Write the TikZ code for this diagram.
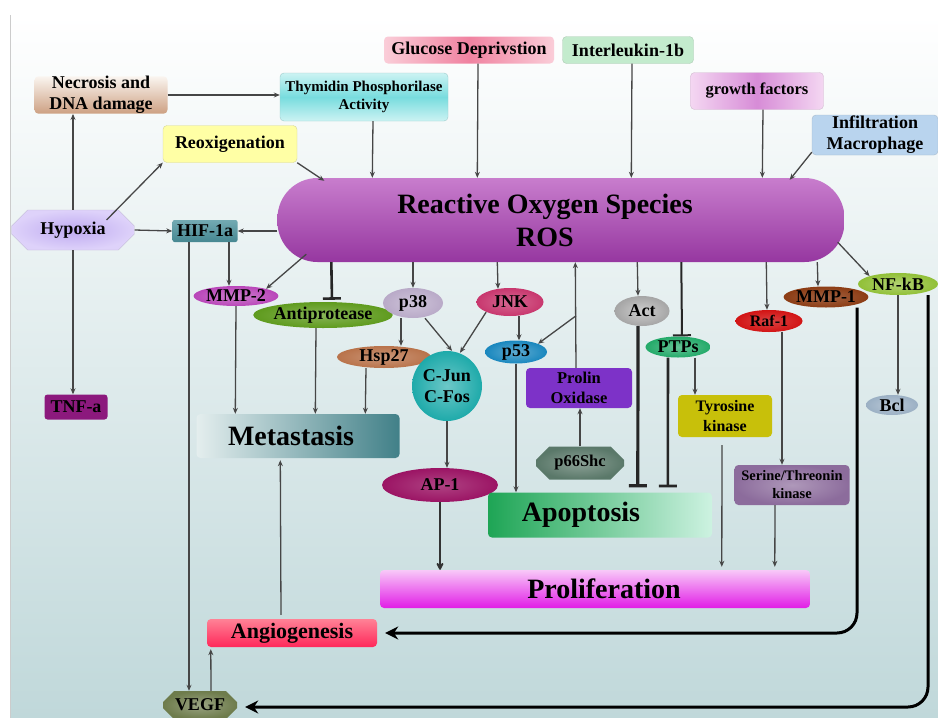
\documentclass[tikz,border=0pt]{standalone}
\usepackage{fontspec}
\setmainfont{Liberation Serif}
\usetikzlibrary{arrows.meta,shapes.geometric,shapes.misc,calc}
\definecolor{bgBot}{RGB}{192,216,218}
\definecolor{lineg}{RGB}{70,70,70}
\definecolor{necroT}{RGB}{250,245,240}
\definecolor{necroB}{RGB}{205,160,130}
\definecolor{thymC}{RGB}{170,235,235}
\definecolor{thymM}{RGB}{120,220,222}
\definecolor{glucL}{RGB}{250,205,216}
\definecolor{glucM}{RGB}{240,130,160}
\definecolor{interC}{RGB}{195,235,205}
\definecolor{growthL}{RGB}{244,215,242}
\definecolor{growthM}{RGB}{215,140,215}
\definecolor{infilC}{RGB}{185,212,238}
\definecolor{reoxC}{RGB}{255,255,165}
\definecolor{reoxB}{RGB}{215,215,150}
\definecolor{rosT}{RGB}{200,125,205}
\definecolor{rosB}{RGB}{150,55,160}
\definecolor{hypC}{RGB}{222,210,250}
\definecolor{hypM}{RGB}{190,170,240}
\definecolor{hifC}{RGB}{70,135,145}
\definecolor{hifT}{RGB}{115,170,178}
\definecolor{tnfC}{RGB}{140,25,125}
\definecolor{mmp2C}{RGB}{185,70,185}
\definecolor{antiC}{RGB}{95,155,30}
\definecolor{p38C}{RGB}{185,170,200}
\definecolor{jnkC}{RGB}{200,55,110}
\definecolor{hspC}{RGB}{185,115,75}
\definecolor{cjunC}{RGB}{30,170,170}
\definecolor{p53C}{RGB}{25,135,190}
\definecolor{prolinC}{RGB}{125,50,200}
\definecolor{p66C}{RGB}{90,120,105}
\definecolor{actC}{RGB}{165,165,165}
\definecolor{ptpsC}{RGB}{35,170,105}
\definecolor{tyrC}{RGB}{200,192,10}
\definecolor{rafC}{RGB}{210,20,20}
\definecolor{mmp1C}{RGB}{140,60,20}
\definecolor{nfkbC}{RGB}{145,192,55}
\definecolor{bclC}{RGB}{155,176,196}
\definecolor{serC}{RGB}{140,108,156}
\definecolor{metaL}{RGB}{228,238,238}
\definecolor{metaR}{RGB}{65,128,136}
\definecolor{ap1C}{RGB}{155,20,100}
\definecolor{apopL}{RGB}{30,165,85}
\definecolor{apopR}{RGB}{205,242,225}
\definecolor{prolT}{RGB}{248,200,248}
\definecolor{prolB}{RGB}{225,30,230}
\definecolor{angioT}{RGB}{255,130,150}
\definecolor{angioB}{RGB}{255,40,90}
\definecolor{vegfC}{RGB}{110,124,76}
\tikzset{
  lbl/.style={font=\bfseries\fontsize{18}{21}\selectfont, align=center, inner sep=0pt, text=black},
  rbox/.style={lbl, rectangle, rounded corners=4pt},
  oval/.style={lbl, ellipse, inner xsep=0pt, inner ysep=-3pt},
  cbox/.style={lbl, chamfered rectangle},
  arr/.style={draw=lineg, line width=1.3pt, -{Stealth[length=6pt,width=5pt]}},
  inh/.style={draw=black!85, line width=2.6pt, -{Bar[width=18pt]}},
  bigarr/.style={draw=black, line width=3pt, rounded corners=20pt, -{Stealth[length=13pt,width=13pt]}},
}
\begin{document}
\begin{tikzpicture}[x=1pt,y=-1pt]
\useasboundingbox (0,0) rectangle (938,718);
\shade[top color=white, bottom color=bgBot] (10,15) rectangle (938,718);
\draw[gray!40, line width=0.8pt] (10,15) -- (10,718);

% top inputs
\node[rbox, top color=necroT, bottom color=necroB, minimum width=133pt, minimum height=34pt] (necro) at (101,95) {Necrosis and\\DNA damage};
\node[rbox, font=\bfseries\fontsize{15}{18}\selectfont, top color=thymC!60!white, bottom color=thymC!60!white, middle color=thymM, draw=thymC!70!gray, minimum width=168pt, minimum height=48pt] (thym) at (364,97) {Thymidin Phosphorilase\\Activity};
\node[rbox, left color=glucL, right color=glucL, middle color=glucM, minimum width=170pt, minimum height=27pt] (gluc) at (469,50) {Glucose Deprivstion};
\node[rbox, fill=interC, draw=interC!70!gray, minimum width=131pt, minimum height=27pt] (inter) at (628,50) {Interleukin-1b};
\node[rbox, font=\bfseries\fontsize{16.5}{19}\selectfont, left color=growthL, right color=growthL, middle color=growthM, draw=growthL!70!gray, minimum width=133pt, minimum height=37pt] (growth) at (757,91) {growth factors};
\node[rbox, fill=infilC, draw=infilC!70!gray, minimum width=126pt, minimum height=40pt] (infil) at (875,135) {Infiltration\\Macrophage};
\node[rbox, fill=reoxC, draw=reoxB, minimum width=134pt, minimum height=37pt] (reox) at (230,144) {Reoxigenation};

% ROS
\node[rbox, rounded corners=40pt, top color=rosT, bottom color=rosB, font=\bfseries\fontsize{28}{33}\selectfont, minimum width=567pt, minimum height=84pt] (ros) at (561,220) {Reactive Oxygen Species\hspace*{32pt}\\ROS\hspace*{32pt}};

% left side
\node[cbox, chamfered rectangle xsep=14pt, chamfered rectangle ysep=8pt, inner color=hypM, outer color=hypC, draw=hypC!70!gray, minimum width=123pt, minimum height=40pt] (hyp) at (73,230) {Hypoxia};
\node[rbox, top color=hifT, bottom color=hifC, minimum width=65pt, minimum height=22pt, rounded corners=2pt] (hif) at (205,231) {HIF-1a};
\node[rbox, fill=tnfC, rounded corners=3pt, minimum width=63pt, minimum height=25pt] (tnf) at (76,407) {TNF-a};

% ellipses
\node[oval, inner color=mmp2C!70!white, outer color=mmp2C, minimum width=80pt, minimum height=20pt] (mmp2) at (236,296) {MMP-2};
\node[oval, inner color=antiC!75!white, outer color=antiC, minimum width=130pt, minimum height=26pt] (anti) at (323,315) {Antiprotease};
\node[oval, inner color=p38C!70!white, outer color=p38C, minimum width=60pt, minimum height=30pt] (p38) at (413,303) {p38};
\node[oval, inner color=jnkC!75!white, outer color=jnkC, minimum width=67pt, minimum height=28pt] (jnk) at (510,302) {JNK};
\node[oval, inner color=hspC!75!white, outer color=hspC, minimum width=94pt, minimum height=22pt] (hsp) at (384,357) {Hsp27};
\node[lbl, circle, minimum size=70pt, inner color=cjunC!65!white, outer color=cjunC] (cjun) at (447,386) {C-Jun\\C-Fos};
\node[oval, inner color=p53C!70!white, outer color=p53C, minimum width=62pt, minimum height=23pt] (p53) at (516,352) {p53};
\node[rbox, fill=prolinC, font=\bfseries\fontsize{16.5}{20}\selectfont, minimum width=106pt, minimum height=40pt] (prolin) at (579,388) {Prolin\\Oxidase};
\node[cbox, chamfered rectangle xsep=9pt, chamfered rectangle ysep=6pt, inner color=p66C!70!white, outer color=p66C, font=\bfseries\fontsize{16.5}{19}\selectfont, minimum width=88pt, minimum height=33pt] (p66) at (580,463) {p66Shc};
\node[oval, inner color=actC!55!white, outer color=actC, minimum width=55pt, minimum height=30pt] (act) at (642,311) {Act};
\node[oval, inner color=ptpsC!70!white, outer color=ptpsC, minimum width=65pt, minimum height=21pt] (ptps) at (678,347) {PTPs};
\node[rbox, fill=tyrC, font=\bfseries\fontsize{16}{20}\selectfont, minimum width=94pt, minimum height=42pt] (tyr) at (725,416) {Tyrosine\\kinase};
\node[oval, inner color=rafC!80!white, outer color=rafC, font=\bfseries\fontsize{16}{19}\selectfont, minimum width=67pt, minimum height=22pt] (raf) at (769,321) {Raf-1};
\node[oval, inner color=mmp1C!80!white, outer color=mmp1C, minimum width=83pt, minimum height=21pt] (mmp1) at (826,297) {MMP-1};
\node[oval, inner color=nfkbC!70!white, outer color=nfkbC, minimum width=80pt, minimum height=22pt] (nfkb) at (898,284) {NF-kB};
\node[oval, inner color=bclC!70!white, outer color=bclC, minimum width=52pt, minimum height=20pt] (bcl) at (892,405) {Bcl};
\node[rbox, inner color=serC!70!white, outer color=serC, font=\bfseries\fontsize{14.5}{18}\selectfont, minimum width=115pt, minimum height=40pt] (ser) at (792,485) {Serine/Threonin\\kinase};

% outcomes
\node[rbox, left color=metaL, right color=metaR, font=\bfseries\fontsize{28}{32}\selectfont, minimum width=203pt, minimum height=44pt] (meta) at (298,436) {Metastasis\hspace*{14pt}};
\node[oval, inner color=ap1C!80!white, outer color=ap1C, minimum width=116pt, minimum height=34pt] (ap1) at (440,485) {AP-1};
\node[rbox, left color=apopL, right color=apopR, font=\bfseries\fontsize{28}{32}\selectfont, minimum width=224pt, minimum height=45pt] (apop) at (600,515) {Apoptosis\hspace*{38pt}};
\node[rbox, top color=prolT, bottom color=prolB, font=\bfseries\fontsize{28}{32}\selectfont, minimum width=430pt, minimum height=38pt] (prolif) at (595,589) {\hspace*{18pt}Proliferation};
\node[rbox, top color=angioT, bottom color=angioB, font=\bfseries\fontsize{22}{26}\selectfont, minimum width=170pt, minimum height=28pt] (angio) at (292,633) {Angiogenesis};
\node[cbox, chamfered rectangle xsep=6pt, chamfered rectangle ysep=5pt, inner color=vegfC!70!white, outer color=vegfC, minimum width=74pt, minimum height=28pt] (vegf) at (200,705) {VEGF};

% connectors
\draw[arr] (hyp.north) -- (hyp.north |- necro.south);
\draw[arr] (necro.east) -- (necro.east -| thym.west);
\draw[arr] ($(hyp.north east)+(-20,2)$) -- (reox.south west);
\draw[arr] (reox.south east) -- ($(ros.north west)+(47,3)$);
\draw[arr] ($(thym.south)+(9,0)$) -- ($(ros.north west)+(95,0)$);
\draw[arr] ($(gluc.south)+(9,0)$) -- ($(ros.north west)+(200,0)$);
\draw[arr] ($(inter.south)+(4,0)$) -- ($(ros.north west)+(354,0)$);
\draw[arr] ($(growth.south)+(6,0)$) -- ($(ros.north west)+(485,0)$);
\draw[arr] ($(infil.south west)+(0,-3)$) -- ($(ros.north east)+(-55,2)$);
\draw[arr] (hyp.east) -- (hif.west);
\draw[arr, line width=1.8pt] (ros.west |- hif.east) -- (hif.east);
\draw[arr] (hyp.south) -- (hyp.south |- tnf.north);
\draw[arr, line width=1.8pt] ($(hif.south)+(24,0)$) -- ($(mmp2.north)+(-7,0)$);
\draw[arr, line width=1.8pt] ($(hif.south)+(-16,0)$) -- ($(vegf.north)+(-11,0)$);
\draw[arr] ($(ros.south west)+(29,-8)$) -- (mmp2.north east);
\draw[inh] ($(ros.south west)+(54,0)$) -- ($(anti.north)+(9,-2)$);
\draw[arr] (p38.north |- ros.south) -- (p38.north);
\draw[arr] ($(ros.south west)+(220,0)$) -- ($(jnk.north)+(-12,1)$);
\draw[arr] ($(prolin.north)+(-3,0)$) -- ($(ros.south west)+(298,0)$);
\draw[arr] ($(ros.south west)+(360,0)$) -- ($(act.north)+(-4,0)$);
\draw[inh, line width=2pt] ($(ros.south west)+(404,0)$) -- ($(ptps.north)+(4,0)$);
\draw[arr] ($(ros.south west)+(489,0)$) -- ($(raf.north)+(-2,0)$);
\draw[arr] ($(ros.south west)+(540,0)$) -- ($(mmp1.north)+(-8,0)$);
\draw[arr] ($(ros.south east)+(-7,-20)$) -- (nfkb.north west);
\draw[arr] (mmp2.south) -- ($(meta.north west)+(39,0)$);
\draw[arr] ($(anti.south)+(-7,0)$) -- ($(meta.north west)+(119,0)$);
\draw[arr] ($(hsp.south)+(-18,0)$) -- ($(meta.north west)+(169,0)$);
\draw[arr, line width=1.8pt] ($(p38.south)+(-12,0)$) -- ($(hsp.north)+(17,0)$);
\draw[arr] ($(p38.south)+(12,0)$) -- ($(cjun.north)+(5,0)$);
\draw[arr] (jnk.south west) -- ($(cjun.north)+(13,2)$);
\draw[arr, line width=1.8pt] ($(jnk.south)+(9,0)$) -- ($(p53.north)+(3,0)$);
\draw[arr] ($(prolin.north)+(-3,-52)$) -- (p53.north east);
\draw[arr] (cjun.south) -- (cjun.south |- ap1.north);
\draw[arr] (p53.south) -- (p53.south |- apop.north);
\draw[arr] (p66.north) -- (p66.north |- prolin.south);
\draw[draw=black!80, line width=2.6pt, -{Stealth[length=9pt,width=9pt,round]}] (ap1.south) -- (ap1.south |- prolif.north);
\draw[inh, line width=3.2pt] ($(act.south)+(-4,0)$) -- ($(apop.north west)+(150,-5)$);
\draw[inh] ($(ptps.south)+(-10,0)$) -- ($(apop.north west)+(180,-5)$);
\draw[arr] ($(ptps.south)+(17,0)$) -- ($(tyr.north)+(-30,0)$);
\draw[arr, shorten <=8pt] ($(tyr.south)+(-3,0)$) -- ($(prolif.north west)+(342,-3)$);
\draw[arr] ($(raf.south)+(13,0)$) -- ($(ser.north)+(-10,0)$);
\draw[arr] ($(ser.south)+(-17,0)$) -- ($(prolif.north west)+(395,-3)$);
\draw[arr] ($(angio.north)+(-11,-4)$) -- ($(meta.south west)+(84,2)$);
\draw[arr] ($(vegf.north)+(11,0)$) -- ($(angio.south west)+(4,2)$);
\draw[bigarr] ($(mmp1.south)+(31,0)$) |- ($(angio.east)+(8,0)$);
\draw[bigarr] ($(nfkb.south)+(30,0)$) |- ($(vegf.east)+(8,2)$);
\draw[arr] (nfkb.south) -- (nfkb.south |- bcl.north);
\end{tikzpicture}
\end{document}
